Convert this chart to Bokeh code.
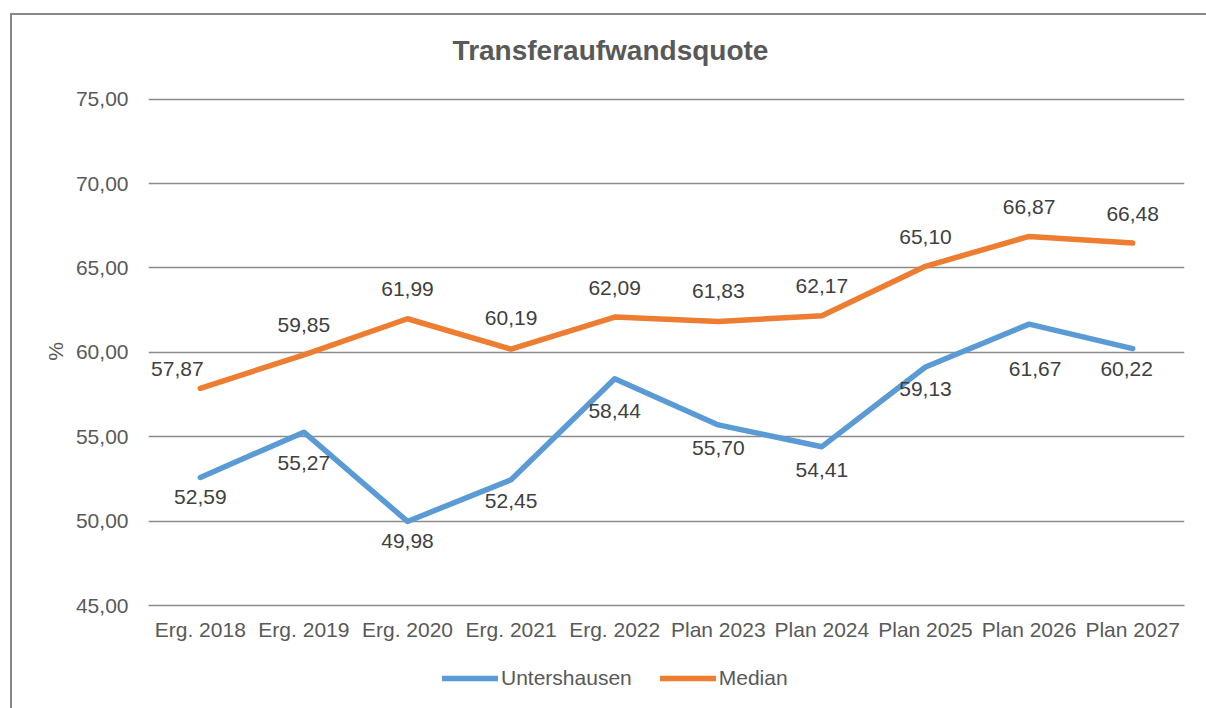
import numpy as np
from bokeh.plotting import figure
from bokeh.layouts import column
from bokeh.models import (ColumnDataSource, Range1d, FactorRange, CustomJSTickFormatter,
                          Legend, LegendItem, Label)
from bokeh.core.properties import value
from bokeh.embed import file_html
from bokeh.resources import INLINE

# ---- data ----
categories = ["Erg. 2018", "Erg. 2019", "Erg. 2020", "Erg. 2021", "Erg. 2022",
              "Plan 2023", "Plan 2024", "Plan 2025", "Plan 2026", "Plan 2027"]
untershausen = [52.59, 55.27, 49.98, 52.45, 58.44, 55.70, 54.41, 59.13, 61.67, 60.22]
median = [57.87, 59.85, 61.99, 60.19, 62.09, 61.83, 62.17, 65.10, 66.87, 66.48]
series_names = ["Untershausen", "Median"]
title_text = "Transferaufwandsquote"
y_label = "%"
y_ticks = [45, 50, 55, 60, 65, 70, 75]

# ---- label placement (styles, pixels) ----
u_dx = [0, 0, 0, 0, 0, 0, 0, 0, 6, -6]
u_dy = [20, 31, 20, 21, 32, 23, 23, 22, 45, 20]
m_dx = [-23, 0, 0, 0, 0, 0, 0, 0, 0, 0]
m_dy = [-19, -30, -30, -31, -29, -30, -30, -29, -29, -29]

def fmt(v):
    return f"{v:.2f}".replace(".", ",")

BLUE = "#5B9BD5"
ORANGE = "#ED7D31"
GRAY_TXT = "#595959"
LBL_TXT = "#404040"
GRID = "#8c8c8c"
FONT = "Liberation Sans"
W = 1194
ML, MR = 136, 22

def strip(h):
    f = figure(width=W, height=h, output_backend="svg", toolbar_location=None,
               x_range=Range1d(0, 1), y_range=Range1d(0, 1),
               min_border_left=ML, min_border_right=MR,
               min_border_top=0, min_border_bottom=0)
    f.axis.visible = False
    f.grid.visible = False
    f.outline_line_color = None
    f.border_fill_color = "white"
    return f

# ---- title strip ----
TH = 70
tf = strip(TH)
tf.add_layout(Label(x=462, y=35, x_units="screen", y_units="screen", text=title_text,
                    text_align="center", text_baseline="middle",
                    text_font=FONT, text_font_size="28px", text_font_style="bold",
                    text_color=GRAY_TXT))

# ---- main chart ----
src_u = ColumnDataSource(dict(x=categories, y=untershausen,
                              t=[fmt(v) for v in untershausen], dx=u_dx, dy=u_dy))
src_m = ColumnDataSource(dict(x=categories, y=median,
                              t=[fmt(v) for v in median], dx=m_dx, dy=m_dy))

p = figure(width=W, height=570, output_backend="svg", toolbar_location=None,
           x_range=FactorRange(*categories, range_padding=0),
           y_range=Range1d(45, 75.1),
           min_border_left=ML, min_border_right=MR, min_border_top=12, min_border_bottom=50)

p.outline_line_color = None
p.background_fill_color = "white"
p.border_fill_color = "white"

p.xgrid.grid_line_color = None
p.ygrid.grid_line_color = GRID
p.ygrid.grid_line_width = 1.5

p.yaxis.ticker = y_ticks
p.yaxis.formatter = CustomJSTickFormatter(code="return tick.toFixed(2).replace('.', ',');")
p.yaxis.axis_line_color = None
p.yaxis.major_tick_line_color = None
p.yaxis.major_tick_out = 0
p.yaxis.major_tick_in = 0
p.yaxis.minor_tick_line_color = None
p.yaxis.major_label_text_font = FONT
p.yaxis.major_label_text_font_size = "21px"
p.yaxis.major_label_text_color = GRAY_TXT
p.yaxis.major_label_standoff = 20
p.yaxis.axis_label = y_label
p.yaxis.axis_label_text_font = FONT
p.yaxis.axis_label_text_font_size = "21px"
p.yaxis.axis_label_text_font_style = "normal"
p.yaxis.axis_label_text_color = GRAY_TXT
p.yaxis.axis_label_standoff = 6

p.xaxis.axis_line_color = GRID
p.xaxis.axis_line_width = 1.5
p.xaxis.major_tick_line_color = None
p.xaxis.major_tick_out = 0
p.xaxis.major_tick_in = 0
p.xaxis.minor_tick_line_color = None
p.xaxis.major_label_text_font = FONT
p.xaxis.major_label_text_font_size = "21px"
p.xaxis.major_label_text_color = GRAY_TXT
p.xaxis.major_label_standoff = 12

line_kw = dict(line_width=5.5, line_cap="round", line_join="round")
p.line("x", "y", source=src_u, line_color=BLUE, **line_kw)
p.line("x", "y", source=src_m, line_color=ORANGE, **line_kw)

for src in (src_u, src_m):
    p.text("x", "y", text="t", source=src, x_offset="dx", y_offset="dy",
           text_align="center", text_baseline="middle",
           text_font=value(FONT), text_font_size="21px", text_color=LBL_TXT)

# ---- legend strip below the chart ----
lf = strip(53)
nan_src = dict(x=np.array([np.nan]), y=np.array([np.nan]))
lr_u = lf.line(x=nan_src["x"], y=nan_src["y"], line_color=BLUE, **line_kw)
lr_m = lf.line(x=nan_src["x"], y=nan_src["y"], line_color=ORANGE, **line_kw)

legend = Legend(items=[LegendItem(label=series_names[0], renderers=[lr_u]),
                       LegendItem(label=series_names[1], renderers=[lr_m])],
                location=(294, 18), orientation="horizontal",
                glyph_width=56, glyph_height=24, label_standoff=3, spacing=28,
                padding=0, margin=0, border_line_color=None, background_fill_alpha=0,
                label_text_font=FONT, label_text_font_size="21px",
                label_text_color=GRAY_TXT, label_text_baseline="middle")
lf.add_layout(legend, "center")

layout = column(tf, p, lf, spacing=0)
layout.styles = {"border-left": "2px solid #898989", "border-top": "2px solid #898989",
                 "margin-left": "10px", "margin-top": "13px"}

open("out.html", "w").write(file_html(layout, INLINE))
